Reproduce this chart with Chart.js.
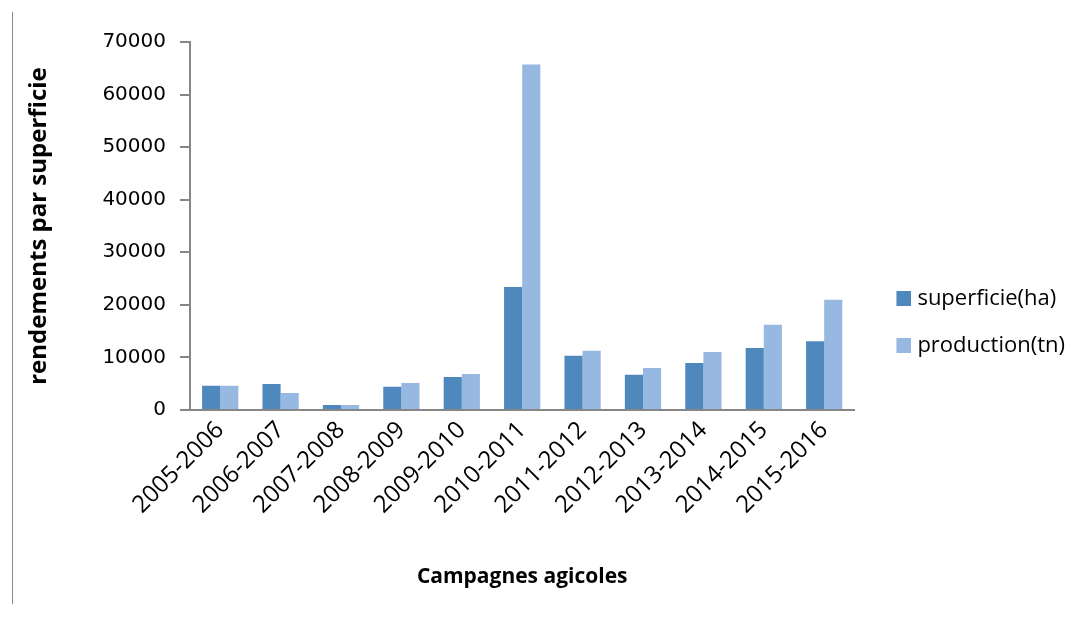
<!DOCTYPE html>
<html>
<head>
<meta charset="utf-8">
<script src="https://cdn.jsdelivr.net/npm/chart.js@4/dist/chart.umd.min.js"></script>
<style>
  html, body { margin: 0; padding: 0; background: #ffffff; }
  #wrap { position: relative; width: 1078px; height: 617px; }
  #frame { position: absolute; left: 12px; top: 12px; width: 0; height: 592px; border-left: 1px solid #8a8a8a; }
  canvas { position: absolute; left: 0; top: 0; }
</style>
</head>
<body>
<div id="wrap">
  <div id="frame"></div>
  <canvas id="c" width="1078" height="617"></canvas>
</div>
<script>
const campagnes = ["2005-2006","2006-2007","2007-2008","2008-2009","2009-2010","2010-2011","2011-2012","2012-2013","2013-2014","2014-2015","2015-2016"];
const superficie = [4600, 4950, 950, 4400, 6300, 23400, 10300, 6700, 8950, 11800, 13100];
const production = [4600, 3250, 950, 5150, 6850, 65700, 11250, 8000, 11050, 16200, 20950];
const yTicks = [0, 10000, 20000, 30000, 40000, 50000, 60000, 70000];

const axisGray = '#868686';
const colors = ['#4F88BD', '#97B8E0'];

// legend swatch: 15x15 square at the right end of a wider transparent image
function makeSwatch(color) {
  const c = document.createElement('canvas');
  c.width = 37; c.height = 15;
  const g = c.getContext('2d');
  g.fillStyle = color;
  g.fillRect(22, 0, 15, 15);
  return c;
}
const swatches = colors.map(makeSwatch);

new Chart(document.getElementById('c'), {
  type: 'bar',
  data: {
    labels: campagnes,
    datasets: [
      { label: 'superficie(ha)', data: superficie, backgroundColor: colors[0], categoryPercentage: 0.6, barPercentage: 1.0 },
      { label: 'production(tn)', data: production, backgroundColor: colors[1], categoryPercentage: 0.6, barPercentage: 1.0 }
    ]
  },
  options: {
    responsive: false,
    animation: false,
    layout: { padding: { left: 22, top: 42, right: 3, bottom: 15 } },
    plugins: {
      tooltip: { enabled: false },
      legend: {
        position: 'right',
        align: 'center',
        labels: {
          usePointStyle: true,
          pointStyleWidth: 27,
          boxHeight: 15,
          padding: 25,
          color: '#000000',
          font: { family: 'Open Sans', size: 22 },
          generateLabels: (chart) => Chart.defaults.plugins.legend.labels.generateLabels(chart)
            .map((item, i) => Object.assign(item, { pointStyle: swatches[i] }))
        }
      }
    },
    scales: {
      x: {
        grid: { display: false, drawTicks: false },
        border: { display: true, color: axisGray, width: 2 },
        afterFit: (axis) => { axis.height = 192; },
        ticks: {
          autoSkip: false,
          maxRotation: 45,
          minRotation: 45,
          padding: 6,
          color: '#000000',
          font: { family: 'Open Sans', size: 24 }
        },
        title: {
          display: true,
          text: 'Campagnes agicoles',
          color: '#000000',
          font: { family: 'Open Sans', size: 21, weight: 'bold' },
          padding: { top: 0, bottom: 12 }
        }
      },
      y: {
        min: 0,
        max: 70000,
        afterBuildTicks: (axis) => { axis.ticks = yTicks.map(v => ({ value: v })); },
        afterFit: (axis) => { axis.width = 168; },
        grid: { display: true, drawOnChartArea: false, drawTicks: true, tickLength: 10, color: axisGray, lineWidth: 2 },
        border: { display: true, color: axisGray, width: 2 },
        ticks: {
          padding: 14,
          color: '#000000',
          font: { family: 'DejaVu Sans', size: 20 },
          callback: (v) => String(v)
        },
        title: {
          display: true,
          text: 'rendements par superficie',
          color: '#000000',
          font: { family: 'Open Sans', size: 24, weight: 'bold' },
          padding: { top: 3, bottom: 0 }
        }
      }
    }
  }
});
</script>
</body>
</html>
